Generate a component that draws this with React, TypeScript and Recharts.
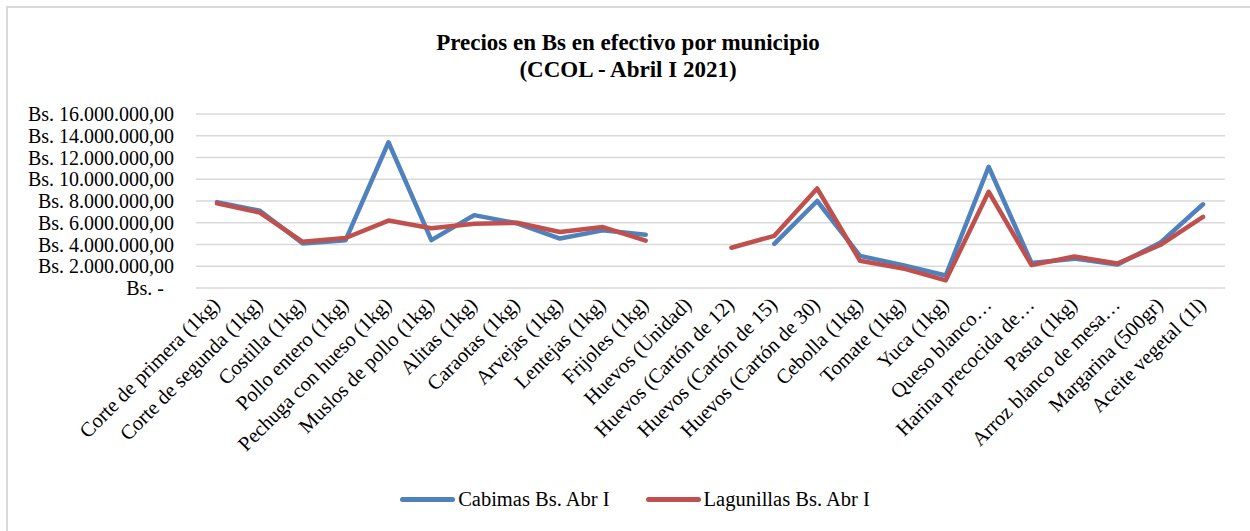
import { CartesianGrid, Legend, Line, LineChart, XAxis, YAxis } from "recharts"

// categorías (productos)
const productos = [
    "Corte de primera (1kg)",
    "Corte de segunda (1kg)",
    "Costilla (1kg)",
    "Pollo entero (1kg)",
    "Pechuga con hueso (1kg)",
    "Muslos de pollo (1kg)",
    "Alitas (1kg)",
    "Caraotas (1kg)",
    "Arvejas (1kg)",
    "Lentejas (1kg)",
    "Frijoles (1kg)",
    "Huevos (Unidad)",
    "Huevos (Cartón de 12)",
    "Huevos (Cartón de 15)",
    "Huevos (Cartón de 30)",
    "Cebolla (1kg)",
    "Tomate (1kg)",
    "Yuca (1kg)",
    "Queso blanco…",
    "Harina precocida de…",
    "Pasta (1kg)",
    "Arroz blanco de mesa…",
    "Margarina (500gr)",
    "Aceite vegetal (1l)",
]

const cabimas = [
    7900000, 7100000, 4100000, 4400000, 13400000, 4400000, 6700000, 5950000,
    4550000, 5300000, 4900000, null, null, 4050000, 8000000, 2950000,
    2100000, 1150000, 11150000, 2300000, 2700000, 2150000, 4150000, 7700000,
]

const lagunillas = [
    7780000, 6930000, 4250000, 4600000, 6200000, 5500000, 5900000, 6000000,
    5150000, 5600000, 4350000, null, 3700000, 4800000, 9150000, 2500000,
    1800000, 700000, 8850000, 2100000, 2900000, 2250000, 3950000, 6550000,
]

const yTicks = [0, 2000000, 4000000, 6000000, 8000000, 10000000, 12000000, 14000000, 16000000]

const data = productos.map((p, i) => ({
    producto: p,
    cabimas: cabimas[i],
    lagunillas: lagunillas[i],
}))

const FONT = "'Liberation Serif', 'Times New Roman', serif"
const BLUE = "#4f81bd"
const RED = "#c0504d"

const formatBs = (v: number) => {
    // formato contable: el cero se muestra como guion
    if (v === 0) return "Bs. -\u00a0\u00a0"
    const s = Math.round(v).toString().replace(/\B(?=(\d{3})+(?!\d))/g, ".")
    return `Bs. ${s},00`
}

const XTick = (props: any) => {
    const { x, y, payload } = props
    return (
        <g transform={`translate(${x + 4},${y + 10})`}>
            <text textAnchor="end" transform="rotate(-45)" fontFamily={FONT} fontSize={20.5} fill="#000">
                {payload.value}
            </text>
        </g>
    )
}

const LegendContent = () => (
    <div style={{ display: "flex", justifyContent: "center", alignItems: "center", height: 30, fontFamily: FONT, fontSize: 20.5, color: "#000" }}>
        {[
            { name: "Cabimas Bs. Abr I", color: BLUE },
            { name: "Lagunillas Bs. Abr I", color: RED },
        ].map((it, i) => (
            <div key={it.name} style={{ display: "flex", alignItems: "center", marginLeft: i ? 36 : 0 }}>
                <div style={{ width: 55, height: 5, borderRadius: 3, background: it.color, marginRight: 3 }} />
                <span>{it.name}</span>
            </div>
        ))}
    </div>
)

export default function App() {
    return (
        <div style={{ position: "absolute", left: 0, top: 0, width: 1250, height: 531, overflow: "hidden", background: "#fff" }}>
            <div style={{ position: "absolute", left: 6, top: 6, width: 1270, height: 560, border: "2px solid #d9d9d9", boxSizing: "border-box" }} />
            <div style={{ position: "absolute", left: 0, top: 29, width: 1256, textAlign: "center", fontFamily: FONT, fontWeight: "bold", fontSize: 23, lineHeight: "27px", color: "#000" }}>
                Precios en Bs en efectivo por municipio
                <br />
                (CCOL - Abril I 2021)
            </div>
            <LineChart
                width={1250}
                height={531}
                data={data}
                margin={{ top: 114, right: 25, left: 0, bottom: 63 }}
                style={{ position: "absolute", left: 0, top: 0 }}
            >
                <CartesianGrid vertical={false} stroke="#d9d9d9" strokeWidth={1.5} />
                <XAxis
                    dataKey="producto"
                    interval={0}
                    height={150}
                    padding={{ left: 21, right: 22 }}
                    tickLine={false}
                    axisLine={false}
                    tick={<XTick />}
                />
                <YAxis
                    width={196}
                    domain={[0, 16000000]}
                    ticks={yTicks}
                    interval={0}
                    tickFormatter={formatBs}
                    tickLine={false}
                    axisLine={false}
                    tickSize={0}
                    tickMargin={22}
                    tick={{ fill: "#000", fontFamily: FONT, fontSize: 20 }}
                />
                <Legend
                    verticalAlign="bottom"
                    height={30}
                    content={<LegendContent />}
                    wrapperStyle={{ top: 484, left: 10, width: 1250 }}
                />
                <Line
                    type="linear"
                    dataKey="cabimas"
                    name="Cabimas Bs. Abr I"
                    stroke={BLUE}
                    strokeWidth={4.5}
                    strokeLinecap="round"
                    strokeLinejoin="round"
                    dot={false}
                    activeDot={false}
                    isAnimationActive={false}
                />
                <Line
                    type="linear"
                    dataKey="lagunillas"
                    name="Lagunillas Bs. Abr I"
                    stroke={RED}
                    strokeWidth={4.5}
                    strokeLinecap="round"
                    strokeLinejoin="round"
                    dot={false}
                    activeDot={false}
                    isAnimationActive={false}
                />
            </LineChart>
        </div>
    )
}
